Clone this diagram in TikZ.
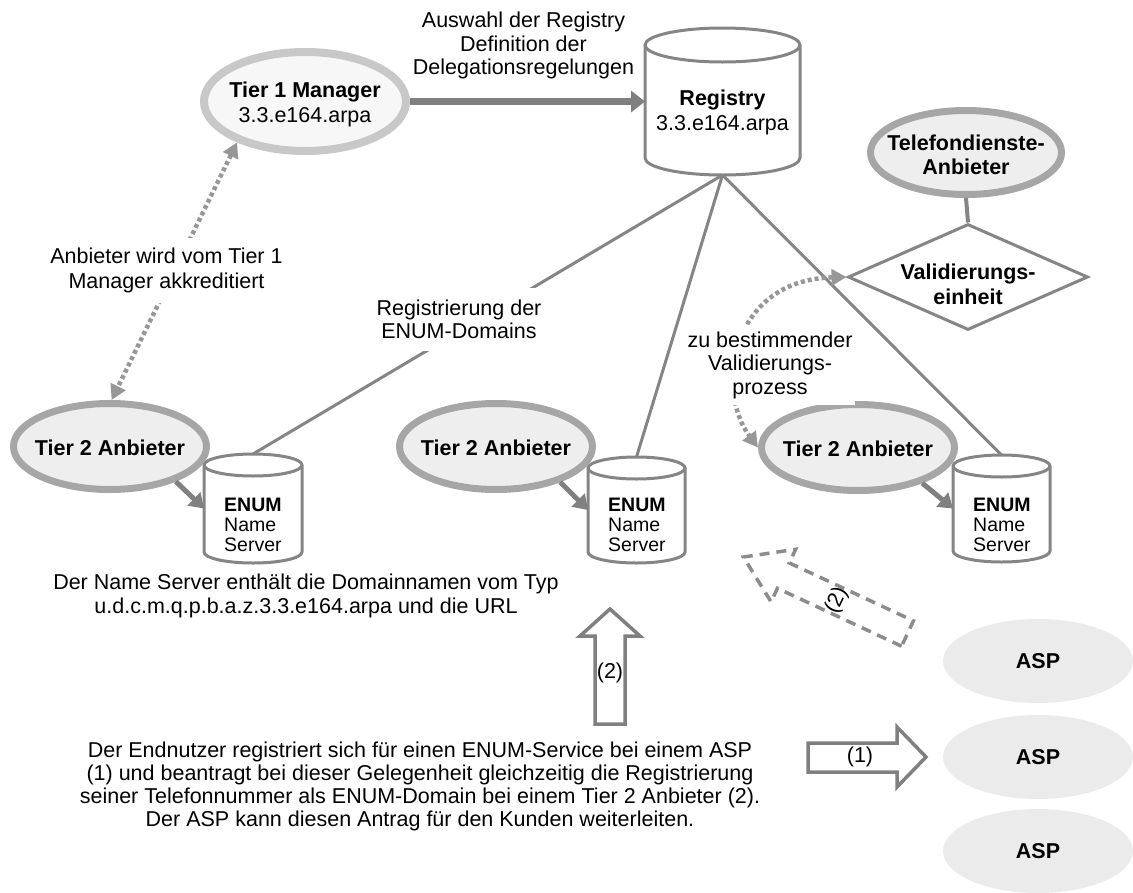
\documentclass[tikz,border=0pt]{standalone}
\usepackage{fontspec}
\setmainfont{Liberation Sans}
\usetikzlibrary{arrows.meta,shapes.geometric}
\definecolor{lineg}{HTML}{858585}
\definecolor{arrg}{HTML}{808080}
\definecolor{dotg}{HTML}{979797}
\definecolor{tonestroke}{HTML}{C8C8C8}
\definecolor{tonefill}{HTML}{F7F7F7}
\definecolor{ttwostroke}{HTML}{A6A6A6}
\definecolor{ttwofill}{HTML}{EEEEEE}
\definecolor{aspfill}{HTML}{EBEBEB}
\definecolor{dashg}{HTML}{8C8C8C}
\newcommand\myfs[1]{\fontsize{21.5pt}{#1pt}\selectfont}
% name, cx, ytop, ybot, rx, ry
\newcommand\mkcyl[6]{%
  \path[fill=white,draw=lineg,line width=3pt,line join=round]
    ({#2-#5},{#3+#6}) -- ({#2-#5},{#4-#6})
    arc[start angle=180,end angle=360,x radius=#5pt,y radius=#6pt]
    -- ({#2+#5},{#3+#6})
    arc[start angle=0,end angle=180,x radius=#5pt,y radius=#6pt] -- cycle;
  \draw[draw=lineg,line width=3pt] ({#2-#5},{#3+#6})
    arc[start angle=180,end angle=360,x radius=#5pt,y radius=#6pt];
  \node[inner sep=0pt,outer sep=0pt,minimum width=2*#5pt,minimum height=#4pt-#3pt] (#1) at (#2,{(#3+#4)/2}) {};
}
\begin{document}
\begin{tikzpicture}[x=1pt,y=-1pt,
  txt/.style={font=\myfs{23.5}, align=center, inner sep=0pt},
  lbl/.style={txt, fill=white, inner xsep=3pt, inner ysep=10pt},
  tone/.style={ellipse, draw=tonestroke, line width=8pt, fill=tonefill, minimum width=202pt, minimum height=99pt, inner sep=0pt},
  ttwo/.style={ellipse, draw=ttwostroke, line width=7pt, fill=ttwofill, minimum width=193pt, minimum height=86pt, inner sep=0pt},
  asp/.style={ellipse, fill=aspfill, minimum width=190pt, minimum height=84pt, inner sep=0pt, font=\myfs{24}\bfseries},
  conn/.style={draw=lineg, line width=3pt},
  bigarr/.style={draw=arrg, line width=6.5pt, -{Triangle[length=14pt,width=21pt]}},
  smallarr/.style={draw=arrg, line width=5pt, -{Triangle[length=14pt,width=18pt]}},
  dotarr/.style={draw=dotg, line width=4.5pt, dash pattern=on 4pt off 3pt, {Triangle[length=15pt,width=16pt]}-{Triangle[length=15pt,width=16pt]}},
  hollow/.style={draw=arrg, line width=3.5pt, fill=white, line join=miter},
  dashhollow/.style={draw=dashg, line width=3.5pt, dash pattern=on 10pt off 7pt},
  valid/.style={diamond, draw=lineg, line width=3pt, fill=white, minimum width=240pt, minimum height=106pt, inner sep=0pt},
  enumt/.style={font=\fontsize{19.5pt}{20pt}\selectfont, align=left, inner sep=0pt, anchor=west},
]
\useasboundingbox (0,0) rectangle (1133,892);

% cylinders
\mkcyl{reg}{722.5}{28}{175}{77.5}{17}
\node[txt, font=\myfs{25}] (regt) at (722.5,112.5) {\textbf{Registry}\\3.3.e164.arpa};
\mkcyl{enumL}{253}{454}{563}{49}{11}
\mkcyl{enumM}{636.5}{457}{563}{48.5}{11}
\mkcyl{enumR}{1001.5}{455}{562}{48.5}{11}

% registry connectors
\draw[conn] (reg.south) -- (enumL.north);
\draw[conn] (reg.south) -- (enumM.north);
\draw[conn] (reg.south) -- (enumR.north);
\node[lbl, inner ysep=12pt] (regl) at (459,319.5) {Registrierung der\\ENUM-Domains};

% Tier 1 manager
\node[tone] (t1) at (305,101.5) {};
\node[txt, font=\myfs{25}] (t1t) at (305,104) {\textbf{Tier 1 Manager}\\3.3.e164.arpa};
\draw[bigarr] (t1.east) -- (reg.west);
\node[txt] (ausw) at (523.5,45.5) {Auswahl der Registry\\Definition der\\Delegationsregelungen};

% Telefondienste-Anbieter and validation
\node[ttwo, minimum width=191pt, minimum height=84pt] (tel) at (966,152.5) {};
\node[txt, font=\myfs{24}\bfseries] (telt) at (966,155) {Telefondienste-\\Anbieter};
\node[valid] (val) at (968,277) {};
\draw[draw=lineg, line width=4pt] (tel.south) -- (val.north);
\node[txt, font=\myfs{25}\bfseries] (valt) at (968,284.5) {Validierungs-\\einheit};

% Tier 2 providers
\node[ttwo] (t2a) at (110,446.5) {};
\node[txt, font=\myfs{24}\bfseries] (t2at) at (110,447.5) {Tier 2 Anbieter};
\node[ttwo] (t2b) at (496,446.5) {};
\node[txt, font=\myfs{24}\bfseries] (t2bt) at (496,447.5) {Tier 2 Anbieter};
\node[ttwo] (t2c) at (858,447.5) {};
\node[txt, font=\myfs{24}\bfseries] (t2ct) at (858,448.5) {Tier 2 Anbieter};

\draw[smallarr] (t2a.332) -- (enumL.west);
\draw[smallarr] (t2b.331) -- (enumM.west);
\draw[smallarr] (t2c.331) -- (enumR.west);

\node[enumt] (enumLt) at (224,525) {\textbf{ENUM}\\Name\\Server};
\node[enumt] (enumMt) at (608,525) {\textbf{ENUM}\\Name\\Server};
\node[enumt] (enumRt) at (973,525) {\textbf{ENUM}\\Name\\Server};

% dotted arrows
\draw[dotarr] (t1.211) -- (t2a.88);
\node[lbl, font=\myfs{25}] (akkr) at (166.5,270.5) {Anbieter wird vom Tier 1\\Manager akkreditiert};
\draw[dotarr] (val.west) .. controls (730,280) and (715,390) .. (t2c.west);
\node[lbl, inner ysep=6pt] (valp) at (770,365) {zu bestimmender\\Validierungs-\\prozess};

% name server note
\node[txt, font=\myfs{24}] (nst) at (306,596) {Der Name Server enthält die Domainnamen vom Typ\\u.d.c.m.q.p.b.a.z.3.3.e164.arpa und die URL};

% block arrows
\draw[hollow] (595,724) -- (595,636) -- (580,636) -- (610,609) -- (640,636) -- (625,636) -- (625,724) -- cycle;
\node[txt] (up2) at (610,673) {(2)};
\draw[hollow] (808,743) -- (897,743) -- (897,727) -- (926,757) -- (897,787) -- (897,772) -- (808,772) -- cycle;
\node[txt] (right1) at (860,757) {(1)};
\begin{scope}[shift={(907.5,633.5)}, rotate=155]
  \draw[dashhollow] (0,-14) -- (137,-14) -- (137,-29) -- (181,0) -- (137,29) -- (137,14) -- (0,14) -- cycle;
  \node[txt, rotate=65] (diag2) at (78,0) {(2)};
\end{scope}

% ASPs
\node[asp] (asp1) at (1038,661) {ASP};
\node[asp] (asp2) at (1038,757) {ASP};
\node[asp] (asp3) at (1038,851) {ASP};

% end user note
\node[txt, font=\myfs{23}] (endt) at (420,786.5) {Der Endnutzer registriert sich für einen ENUM-Service bei einem ASP\\(1) und beantragt bei dieser Gelegenheit gleichzeitig die Registrierung\\seiner Telefonnummer als ENUM-Domain bei einem Tier 2 Anbieter (2).\\Der ASP kann diesen Antrag für den Kunden weiterleiten.};
\end{tikzpicture}
\end{document}
